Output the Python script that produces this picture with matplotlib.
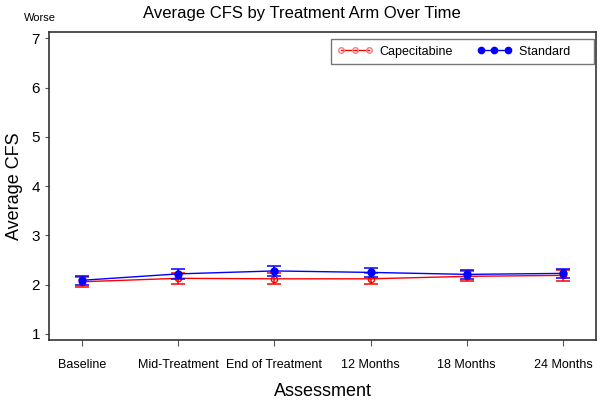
import matplotlib
matplotlib.use("Agg")
import matplotlib.pyplot as plt
from matplotlib.lines import Line2D
import numpy as np

plt.rcParams["font.family"] = ["Liberation Sans", "DejaVu Sans"]

visits = ["Baseline", "Mid-Treatment", "End of Treatment", "12 Months", "18 Months", "24 Months"]

cape_mean = [2.06, 2.13, 2.12, 2.12, 2.17, 2.19]
cape_low = [1.96, 2.02, 2.01, 2.01, 2.07, 2.07]
cape_high = [2.16, 2.24, 2.23, 2.23, 2.27, 2.30]

std_mean = [2.09, 2.22, 2.28, 2.25, 2.21, 2.23]
std_low = [1.99, 2.12, 2.18, 2.16, 2.12, 2.13]
std_high = [2.18, 2.31, 2.38, 2.34, 2.29, 2.32]

x = np.arange(len(visits))

fig = plt.figure(figsize=(6.04, 4.01), dpi=100)
ax = fig.add_axes([49 / 604, 1 - 340 / 401, 547 / 604, 308 / 401])

c_err = [np.subtract(cape_mean, cape_low), np.subtract(cape_high, cape_mean)]
s_err = [np.subtract(std_mean, std_low), np.subtract(std_high, std_mean)]

ax.errorbar(x, cape_mean, yerr=c_err, color="red", lw=1.0, elinewidth=1.1,
            capsize=5, capthick=1.1, marker="o", ms=4.5, mfc="none", mec="red",
            zorder=2)
ax.errorbar(x, std_mean, yerr=s_err, color="blue", lw=1.0, elinewidth=1.1,
            capsize=5, capthick=1.1, marker="o", ms=5, mfc="blue", mec="blue",
            zorder=3)

ax.set_xlim(-0.343, 5.343)
ax.set_ylim(0.878, 7.13)
ax.set_xticks(x)
ax.set_xticklabels(visits, fontsize=9)
ax.set_yticks(range(1, 8))
ax.tick_params(axis="y", labelsize=11, length=3, color="#555555")
ax.tick_params(axis="x", length=4, color="#555555", pad=10)
for s in ax.spines.values():
    s.set_linewidth(1.2)
    s.set_color("#333333")

ax.set_xlabel("Assessment", fontsize=13, labelpad=8)
ax.set_ylabel("Average CFS", fontsize=13, labelpad=6)
fig.suptitle("Average CFS by Treatment Arm Over Time", fontsize=12, y=0.985)
fig.text(24 / 604, 1 - 18 / 401, "Worse", fontsize=8, va="center")

handles = [
    Line2D([], [], color="red", lw=1.0, marker="o", ms=4, mfc="none", mec="#f08080"),
    Line2D([], [], color="blue", lw=1.0, marker="o", ms=4.5, mfc="blue", mec="blue"),
]
leg = ax.legend(handles, ["Capecitabine", "Standard" + " " * 5], loc="upper right", ncol=2,
                fontsize=9, frameon=True, fancybox=False, numpoints=3,
                edgecolor="#555555", bbox_to_anchor=(0.996, 0.976), borderaxespad=0,
                borderpad=0.5, handlelength=2.8, handletextpad=0.56, columnspacing=1.9)
leg.get_frame().set_linewidth(1.0)

fig.savefig("out.png", dpi=100)
